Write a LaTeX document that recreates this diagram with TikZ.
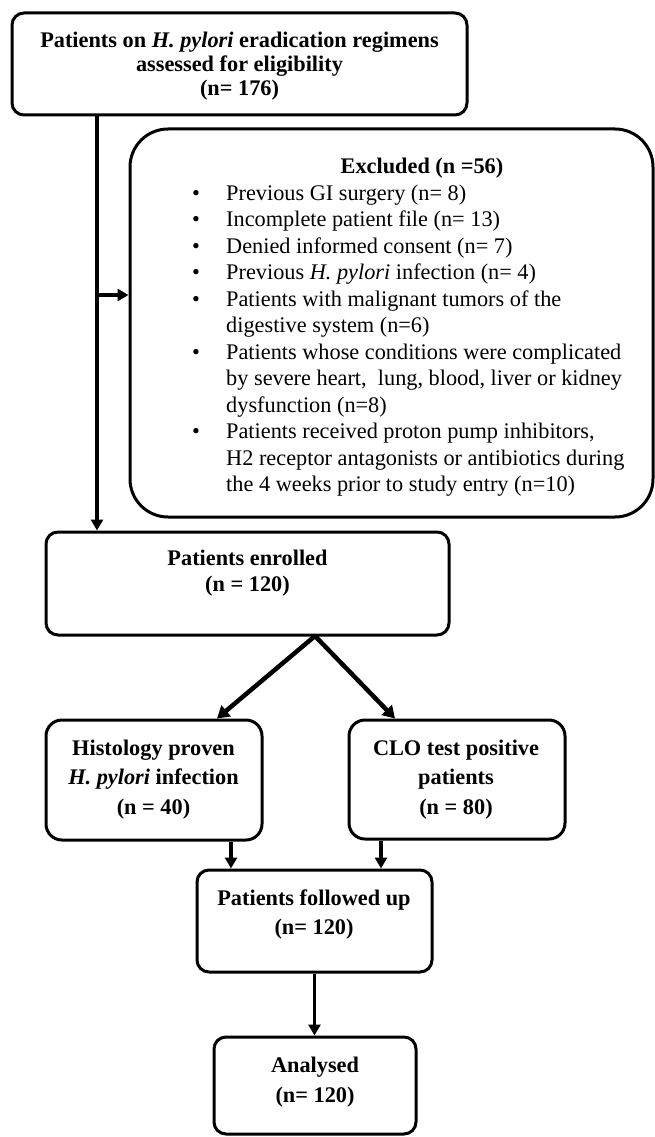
\documentclass[tikz,border=0pt]{standalone}
\usepackage{fontspec}
\setmainfont{Liberation Serif}
\usetikzlibrary{arrows.meta,calc}
\begin{document}
\begin{tikzpicture}[x=1pt,y=-1pt,
  box/.style={draw, line width=3pt, rounded corners=12pt, inner sep=0pt},
  txt/.style={anchor=base, inner sep=0pt, font=\fontsize{22.3}{#1}\selectfont\bfseries},
  txt/.default=24,
  lst/.style={anchor=base west, inner sep=0pt, font=\fontsize{22.3}{26.5}\selectfont},
  arr/.style={line width=3.5pt, -{Triangle[length=11pt,width=12pt]}},
  diag/.style={line width=4.5pt, -{Triangle[length=12pt,width=14pt]}}]
\useasboundingbox (0,0) rectangle (655,1137);
% boxes
\node[box, minimum width=455pt, minimum height=102pt] (top) at (239.5,64) {};
\node[box, rounded corners=38pt, minimum width=523pt, minimum height=388pt] (excl) at (391.5,323) {};
\node[box, minimum width=403pt, minimum height=103pt] (enr) at (247.5,583.5) {};
\node[box, rounded corners=16pt, minimum width=216pt, minimum height=120pt] (hist) at (154,780) {};
\node[box, rounded corners=16pt, minimum width=216pt, minimum height=119pt] (clo) at (457,779.5) {};
\node[box, minimum width=235pt, minimum height=102pt] (fol) at (314.5,921) {};
\node[box, minimum width=202pt, minimum height=97pt] (ana) at (315,1085.5) {};
% texts
\node[txt] (topT) at (239.5,48) {\begin{tabular}[t]{@{}c@{}}Patients on \textit{H. pylori} eradication regimens\\ assessed for eligibility\\ (n= 176)\end{tabular}};
\node[txt] (exT) at (422,173) {Excluded (n =56)};
\node[lst] (exL) at (192,200) {\begin{tabular}[t]{@{}l@{}l@{}}
\makebox[34pt][l]{\textbullet} & Previous GI surgery (n= 8)\\
\makebox[34pt][l]{\textbullet} & Incomplete patient file (n= 13)\\
\makebox[34pt][l]{\textbullet} & Denied informed consent (n= 7)\\
\makebox[34pt][l]{\textbullet} & Previous \textit{H. pylori} infection (n= 4)\\
\makebox[34pt][l]{\textbullet} & Patients with malignant tumors of the\\
 & digestive system (n=6)\\
\makebox[34pt][l]{\textbullet} & Patients whose conditions were complicated\\
 & by severe heart,\ \ lung, blood, liver or kidney\\
 & dysfunction (n=8)\\
\makebox[34pt][l]{\textbullet} & Patients received proton pump inhibitors,\\
 & H2 receptor antagonists or antibiotics during\\
 & the 4 weeks prior to study entry (n=10)
\end{tabular}};
\node[txt=26] (enrT) at (247.5,565) {\begin{tabular}[t]{@{}c@{}}Patients enrolled\\ (n = 120)\end{tabular}};
\node[txt=29.5] (histT) at (153.5,755) {\begin{tabular}[t]{@{}c@{}}Histology proven\\ \textit{H. pylori} infection\\ (n = 40)\end{tabular}};
\node[txt=29.5] (cloT) at (456,755) {\begin{tabular}[t]{@{}c@{}}CLO test positive\\ patients\\ (n = 80)\end{tabular}};
\node[txt=29.5] (folT) at (314,905) {\begin{tabular}[t]{@{}c@{}}Patients followed up\\ (n= 120)\end{tabular}};
\node[txt=30] (anaT) at (315,1072) {\begin{tabular}[t]{@{}c@{}}Analysed\\ (n= 120)\end{tabular}};
% connectors
\coordinate (mainx) at (97,0);
\coordinate (split) at (97,295);
\draw[arr] (top.south -| mainx) -- (enr.north -| mainx);
\draw[arr] (split) -- (split -| excl.west);
\coordinate (fork) at (315,636);
\draw[diag] (fork) -- ([xshift=63pt]hist.north);
\draw[diag] (fork) -- ([xshift=-62pt]clo.north);
\draw[arr] ([xshift=77pt]hist.south) -- ([xshift=77pt]hist.south |- fol.north);
\draw[arr] ([xshift=-76pt]clo.south) -- ([xshift=-76pt]clo.south |- fol.north);
\draw[arr] (fol.south) -- (fol.south |- ana.north);
\end{tikzpicture}
\end{document}
